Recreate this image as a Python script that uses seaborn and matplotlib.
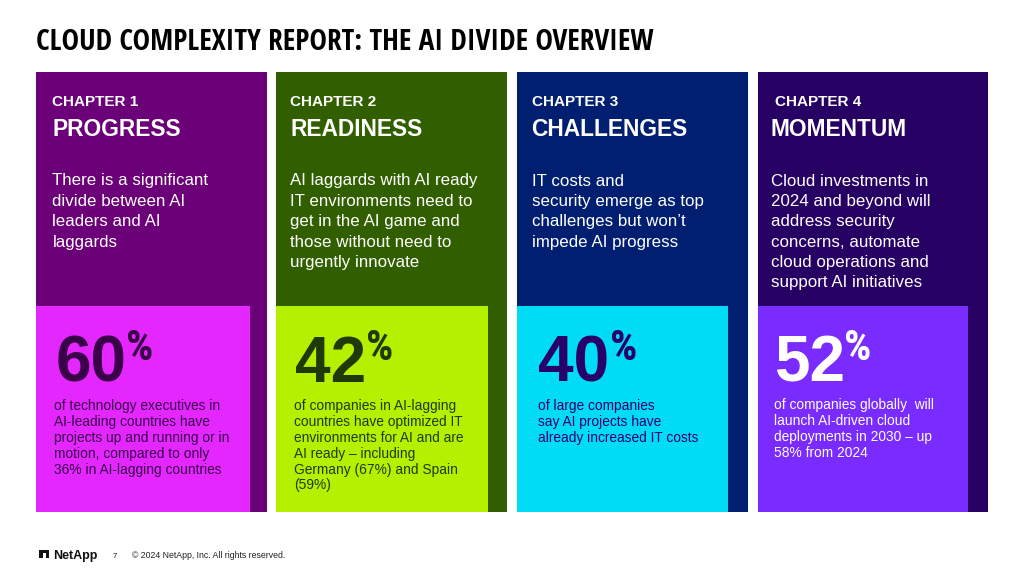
import matplotlib
matplotlib.use('Agg')
import matplotlib.pyplot as plt
from matplotlib.patches import Rectangle
import seaborn as sns

title = 'CLOUD COMPLEXITY REPORT: THE AI DIVIDE OVERVIEW'
chapters = ['CHAPTER 1', 'CHAPTER 2', 'CHAPTER 3', 'CHAPTER 4']
headings = ['PROGRESS', 'READINESS', 'CHALLENGES', 'MOMENTUM']
stats = [60, 42, 40, 52]
summaries = [
    ['There is a significant', 'divide between AI', 'leaders and AI', 'laggards'],
    ['AI laggards with AI ready', 'IT environments need to', 'get in the AI game and',
     'those without need to', 'urgently innovate'],
    ['IT costs and', 'security emerge as top', 'challenges but won\u2019t', 'impede AI progress'],
    ['Cloud investments in', '2024 and beyond will', 'address security',
     'concerns, automate', 'cloud operations and', 'support AI initiatives'],
]
details = [
    ['of technology executives in', 'AI-leading countries have', 'projects up and running or in',
     'motion, compared to only', '36% in AI-lagging countries'],
    ['of companies in AI-lagging', 'countries have optimized IT', 'environments for AI and are',
     'AI ready \u2013 including', 'Germany (67%) and Spain', '(59%)'],
    ['of large companies', 'say AI projects have', 'already increased IT costs'],
    ['of companies globally  will', 'launch AI-driven cloud', 'deployments in 2030 \u2013 up',
     '58% from 2024'],
]
footer = '\u00a9 2024 NetApp, Inc. All rights reserved.'
page = '7'

outer_colors = ['#6c0078', '#315f00', '#001f70', '#260063']
inner_colors = ['#e426ff', '#b4f000', '#00dcf5', '#7a2bff']
stat_colors = ['#3a0048', '#1f3a06', '#27006a', '#ffffff']
detail_colors = ['#3a0048', '#1f3a06', '#27006a', '#ffffff']

outer_left = [36, 276, 517, 757.5]
outer_right = [266.5, 507, 747.5, 988]
inner_right = [250, 487.5, 728, 968]
outer_top, inner_top, base = 72, 306, 512

chapter_x = [52, 290, 531.5, 775]
text_x = [52.5, 290, 531.5, 771]
stat_x = [55.5, 294.5, 538, 774]
pct_x = [126.5, 366.5, 610.5, 844.5]
detail_x = [54, 294.5, 538, 774.5]
detail_y = [410, 410, 410, 409]

sns.set_theme(style='white')
plt.rcParams['font.family'] = ['Liberation Sans', 'DejaVu Sans']

fig, ax = plt.subplots(figsize=(10.24, 5.76), dpi=100)
ax.set_position([0, 0, 1, 1])


def px(y):
    # picture rows to axis units, the panels stand on the base row
    return base - y


for i in range(4):
    left, right, inner = outer_left[i], outer_right[i], inner_right[i]
    sns.barplot(x=[(left + right) / 2], y=[base - outer_top], width=right - left,
                native_scale=True, color=outer_colors[i], saturation=1, linewidth=0, ax=ax)
    sns.barplot(x=[(left + inner) / 2], y=[base - inner_top], width=inner - left,
                native_scale=True, color=inner_colors[i], saturation=1, linewidth=0, ax=ax)

    ax.text(chapter_x[i], px(106.5), chapters[i], color='white', fontsize=11, fontweight='bold')
    ax.text(text_x[i], px(136), headings[i], color='white', fontsize=16.4, fontweight='bold')
    for j, line in enumerate(summaries[i]):
        ax.text(text_x[i], px(185.5 + j * 20.4), line, color='white', fontsize=12.2)
    ax.text(stat_x[i], px(382), str(stats[i]), color=stat_colors[i], fontsize=46, fontweight='bold')
    ax.text(pct_x[i], px(360), '%', color=stat_colors[i], fontsize=31, fontweight='bold',
            family=['Roboto Condensed', 'Liberation Sans'])
    for j, line in enumerate(details[i]):
        ax.text(detail_x[i], px(detail_y[i] + j * 15.9), line, color=detail_colors[i], fontsize=9.9)

ax.text(36, px(50), title, color='black', fontsize=21.2, fontweight='bold',
        family=['Open Sans Condensed', 'Liberation Sans'])

# logo mark
ax.add_patch(Rectangle((39, px(558)), 3.5, 8, color='#111111', lw=0))
ax.add_patch(Rectangle((39, px(553)), 10, 3, color='#111111', lw=0))
ax.add_patch(Rectangle((45.5, px(558)), 3.5, 8, color='#111111', lw=0))
ax.text(53, px(558.5), 'NetApp', color='#111111', fontsize=9, fontweight='bold')
ax.text(113, px(558), page, color='#222222', fontsize=5.8)
ax.text(132.5, px(558), footer, color='#222222', fontsize=6.3)

ax.set_xlim(0, 1024)
ax.set_ylim(px(576), px(0))
ax.axis('off')
fig.savefig('out.png', dpi=100, facecolor='white')
